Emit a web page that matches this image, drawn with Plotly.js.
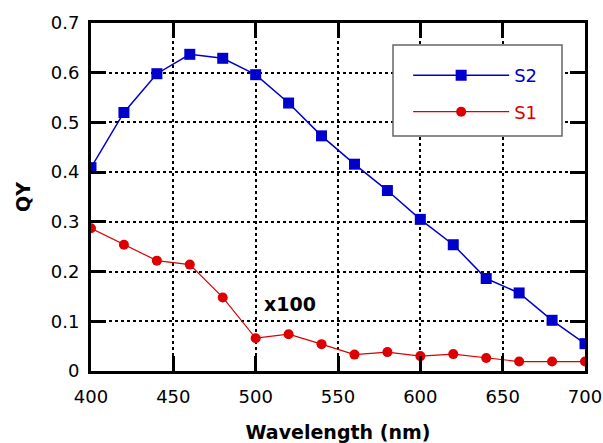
<!DOCTYPE html>
<html>
<head>
<meta charset="utf-8">
<script src="https://cdn.plot.ly/plotly-3.0.1.min.js"></script>
<style>html,body{margin:0;padding:0;background:#fff;}#chart{width:603px;height:443px;}</style>
</head>
<body>
<div id="chart"></div>
<script>
const wavelength = [400, 420, 440, 460, 480, 500, 520, 540, 560, 580, 600, 620, 640, 660, 680, 700];
const qyS2 = [0.409, 0.520, 0.598, 0.637, 0.629, 0.596, 0.539, 0.473, 0.416, 0.363, 0.305, 0.254, 0.186, 0.157, 0.102, 0.055];
const qyS1 = [0.287, 0.254, 0.222, 0.214, 0.148, 0.066, 0.074, 0.054, 0.033, 0.038, 0.030, 0.034, 0.026, 0.019, 0.019, 0.019];
const xTicks = [400, 450, 500, 550, 600, 650, 700];
const yTicks = [0, 0.1, 0.2, 0.3, 0.4, 0.5, 0.6, 0.7];
const yTickText = ['0', '0.1', '0.2', '0.3', '0.4', '0.5', '0.6', '0.7'];
const scaleNote = 'x100';

const blue = '#0000CC';
const red = '#DD0000';
const font = 'DejaVu Sans, Verdana, sans-serif';

const traces = [
  {
    x: wavelength, y: qyS2, type: 'scatter', mode: 'lines+markers',
    name: '<span style="color:' + blue + '">S2</span>', legendgroup: 'a',
    line: {color: blue, width: 1.5},
    marker: {symbol: 'square', size: 11, color: blue}
  },
  {
    x: wavelength, y: qyS1, type: 'scatter', mode: 'lines+markers',
    name: '<span style="color:' + red + '">S1</span>', legendgroup: 'b',
    line: {color: red, width: 1.2},
    marker: {symbol: 'circle', size: 10, color: red}
  }
];

const axisCommon = {
  showline: true, linecolor: '#000', linewidth: 3, mirror: 'ticks',
  ticks: 'inside', ticklen: 15, tickwidth: 3, tickcolor: '#000',
  showgrid: true, gridcolor: '#000', gridwidth: 2, griddash: 'dot',
  zeroline: false,
  tickfont: {family: font, size: 18, color: '#000'}
};

const layout = {
  width: 603, height: 443,
  margin: {l: 91, r: 18, t: 23, b: 72},
  paper_bgcolor: '#fff', plot_bgcolor: '#fff',
  showlegend: true,
  xaxis: Object.assign({}, axisCommon, {
    range: [400, 700], tickvals: xTicks, ticktext: xTicks.map(String),
    ticklabelstandoff: 7,
    title: {text: '<b>Wavelength (nm)</b>', font: {family: font, size: 19, color: '#000'}, standoff: 22}
  }),
  yaxis: Object.assign({}, axisCommon, {
    range: [0, 0.7], tickvals: yTicks, ticktext: yTickText,
    ticklabelstandoff: 5,
    title: {text: '<b>QY</b>', font: {family: font, size: 19, color: '#000'}, standoff: 16}
  }),
  legend: {
    x: 0.642, y: 0.902, xanchor: 'left', yanchor: 'top',
    bgcolor: 'rgba(0,0,0,0)', borderwidth: 0,
    itemwidth: 96, tracegroupgap: 10, traceorder: 'grouped',
    font: {family: font, size: 18}
  },
  shapes: [
    {type: 'rect', xref: 'paper', yref: 'paper', layer: 'above',
     x0: (393 - 91) / 494, x1: (562 - 91) / 494, y0: (371 - 136) / 348, y1: (371 - 45) / 348,
     fillcolor: '#fff', line: {color: '#666', width: 1.5}}
  ],
  annotations: [
    {x: 521, y: 0.135, xref: 'x', yref: 'y', text: '<b>' + scaleNote + '</b>', showarrow: false,
     font: {family: font, size: 19, color: '#000'}}
  ]
};

Plotly.newPlot('chart', traces, layout, {displayModeBar: false, staticPlot: true});
</script>
</body>
</html>
